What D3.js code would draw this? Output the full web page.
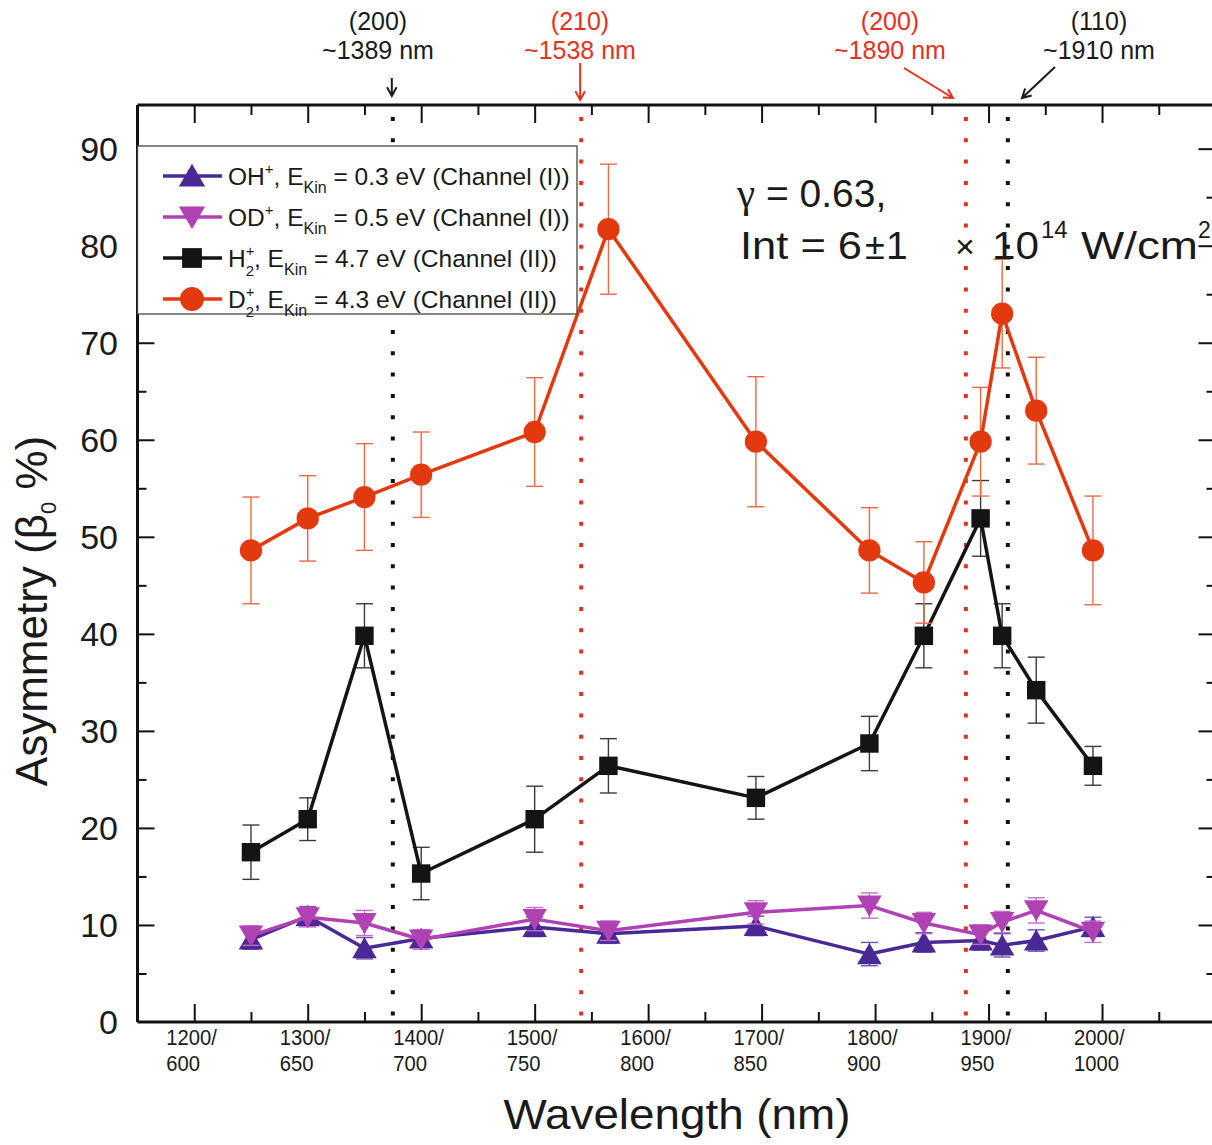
<!DOCTYPE html>
<html>
<head>
<meta charset="utf-8">
<script src="https://cdn.jsdelivr.net/npm/d3@7"></script>
<style>
  html, body { margin: 0; padding: 0; background: #ffffff; }
  svg { display: block; font-family: "Liberation Sans", Arial, sans-serif; }
</style>
</head>
<body>
<svg id="chart" width="1212" height="1145"></svg>
<script>
// ---------------- DATA ----------------
const wavelengths = [1250, 1300, 1350, 1400, 1500, 1565, 1695, 1795, 1843, 1893, 1912, 1942, 1992];

const ohValues = [8.5, 10.9, 7.6, 8.6, 9.8, 9.1, 9.9, 7.0, 8.2, 8.4, 7.9, 8.4, 9.8];
const ohErrors = [1.0, 1.0, 1.1, 0.9, 1.0, 1.0, 1.0, 1.2, 1.0, 1.0, 1.2, 1.1, 1.0];

const odValues = [8.9, 10.8, 10.2, 8.5, 10.6, 9.4, 11.3, 12.0, 10.2, 9.0, 10.3, 11.5, 9.3];
const odErrors = [1.0, 1.0, 1.3, 1.0, 1.2, 1.0, 1.2, 1.3, 1.1, 1.0, 1.1, 1.3, 1.1];

const h2Values = [17.5, 20.9, 39.8, 15.3, 20.9, 26.4, 23.1, 28.7, 39.8, 51.9, 39.8, 34.2, 26.4];
const h2Errors = [2.8, 2.2, 3.3, 2.7, 3.4, 2.8, 2.2, 2.8, 3.3, 3.9, 3.3, 3.4, 2.0];

const d2Values = [48.6, 51.9, 54.1, 56.4, 60.8, 81.7, 59.8, 48.6, 45.3, 59.8, 73.0, 63.0, 48.6];
const d2Errors = [5.5, 4.4, 5.5, 4.4, 5.6, 6.7, 6.7, 4.4, 4.2, 5.6, 5.6, 5.5, 5.6];

const xMajorTicks = [1200, 1300, 1400, 1500, 1600, 1700, 1800, 1900, 2000];
const xMinorTicks = [1250, 1350, 1450, 1550, 1650, 1750, 1850, 1950, 2050];
const xTickLine1 = ["1200/", "1300/", "1400/", "1500/", "1600/", "1700/", "1800/", "1900/", "2000/"];
const xTickLine2 = ["600", "650", "700", "750", "800", "850", "900", "950", "1000"];
const yMajorTicks = [0, 10, 20, 30, 40, 50, 60, 70, 80, 90];
const yMinorTicks = [5, 15, 25, 35, 45, 55, 65, 75, 85];

// resonance markers (positions)
const resonancePositions = [1375, 1541, 1880, 1917];
const resonanceOrders = ["(200)", "(210)", "(200)", "(110)"];
const resonanceLabels = ["~1389 nm", "~1538 nm", "~1890 nm", "~1910 nm"];
const resonanceIsRed = [false, true, true, false];

// ---------------- SETUP ----------------
const svg = d3.select("#chart");
const X0 = 137.5, X1 = 1215.5, YT = 105, YB = 1022;
const x = d3.scaleLinear().domain([1150, 2100]).range([X0, X1]);
const y = d3.scaleLinear().domain([0, 94.5]).range([YB, YT]);

const RED = "#e3321c";
const colors = { oh: "#4a2896", od: "#b042b4", h2: "#141414", d2: "#e2390f" };
const errColors = { oh: "#6e52b4", od: "#c46ccb", h2: "#3a3a3a", d2: "#eb6a45" };

// ---------------- AXES / FRAME ----------------
const axesG = svg.append("g");
function tickAxis(axisGen, transform, values, size) {
  const g = axesG.append("g").attr("transform", transform)
    .call(axisGen.tickValues(values).tickSize(size).tickFormat(""));
  g.select(".domain").remove();
  g.selectAll("line").attr("stroke", "#111").attr("stroke-width", 2);
}
tickAxis(d3.axisBottom(x), `translate(0,${YB})`, xMajorTicks, -18);
tickAxis(d3.axisBottom(x), `translate(0,${YB})`, xMinorTicks, -10);
tickAxis(d3.axisTop(x), `translate(0,${YT})`, xMajorTicks, -18);
tickAxis(d3.axisTop(x), `translate(0,${YT})`, xMinorTicks, -10);
tickAxis(d3.axisLeft(y), `translate(${X0},0)`, yMajorTicks.filter(v => v > 0), -17);
tickAxis(d3.axisLeft(y), `translate(${X0},0)`, yMinorTicks, -9);
tickAxis(d3.axisRight(y), `translate(${X1},0)`, yMajorTicks.filter(v => v > 0), -17);
tickAxis(d3.axisRight(y), `translate(${X1},0)`, yMinorTicks, -9);

// frame
axesG.append("line").attr("x1", X0).attr("x2", X1).attr("y1", YB).attr("y2", YB).attr("stroke", "#111").attr("stroke-width", 3);
axesG.append("line").attr("x1", X0).attr("x2", X1).attr("y1", YT).attr("y2", YT).attr("stroke", "#111").attr("stroke-width", 3);
axesG.append("line").attr("x1", X0).attr("x2", X0).attr("y1", YT).attr("y2", YB).attr("stroke", "#111").attr("stroke-width", 3);
axesG.append("line").attr("x1", X1).attr("x2", X1).attr("y1", YT).attr("y2", YB).attr("stroke", "#111").attr("stroke-width", 3);

// y tick labels
svg.append("g").selectAll("text").data(yMajorTicks).join("text")
  .attr("x", 118).attr("y", d => y(d) + 12)
  .attr("text-anchor", "end").attr("font-size", 34).attr("fill", "#1a1a1a")
  .text(d => d);

// x tick labels (two lines, narrow)
const xl = svg.append("g").selectAll("g").data(xMajorTicks).join("g")
  .attr("transform", d => `translate(${x(d) - 28},0) scale(0.92,1)`);
xl.append("text").attr("x", 0).attr("y", 1045).attr("font-size", 22).attr("fill", "#1a1a1a")
  .text((d, i) => xTickLine1[i]);
xl.append("text").attr("x", 0).attr("y", 1071).attr("font-size", 22).attr("fill", "#1a1a1a")
  .text((d, i) => xTickLine2[i]);

// axis titles
svg.append("text").attr("x", 677).attr("y", 1129).attr("text-anchor", "middle")
  .attr("font-size", 42).attr("fill", "#1a1a1a").attr("textLength", 347).attr("lengthAdjust", "spacingAndGlyphs")
  .text("Wavelength (nm)");
const yt = svg.append("text").attr("transform", "translate(47,611) rotate(-90)")
  .attr("text-anchor", "middle").attr("font-size", 44).attr("fill", "#1a1a1a");
yt.append("tspan").text("Asymmetry (β");
yt.append("tspan").attr("font-size", 22).attr("dy", 9).text("0");
yt.append("tspan").attr("dy", -9).text(" %)");

// ---------------- RESONANCE LINES ----------------
const resG = svg.append("g");
resonancePositions.forEach((w, i) => {
  resG.append("line").attr("x1", x(w)).attr("x2", x(w)).attr("y1", YT + 12).attr("y2", YB - 2)
    .attr("stroke", resonanceIsRed[i] ? RED : "#111").attr("stroke-width", 4)
    .attr("stroke-dasharray", "4,17.3");
});

// ---------------- DATA SERIES ----------------
const series = [
  { key: "oh", values: ohValues, errors: ohErrors, symbol: d3.symbolTriangle, size: 260, rot: 0 },
  { key: "od", values: odValues, errors: odErrors, symbol: d3.symbolTriangle, size: 260, rot: 180 },
  { key: "h2", values: h2Values, errors: h2Errors, symbol: d3.symbolSquare, size: 340, rot: 0 },
  { key: "d2", values: d2Values, errors: d2Errors, symbol: d3.symbolCircle, size: 390, rot: 0 }
];
const lineGen = d3.line().x(d => x(d.w)).y(d => y(d.v));

series.forEach(s => {
  const pts = wavelengths.map((w, i) => ({ w, v: s.values[i], e: s.errors[i] }));
  const g = svg.append("g");
  const eb = g.append("g").attr("stroke", errColors[s.key]).attr("stroke-width", 1.4);
  pts.forEach(p => {
    eb.append("line").attr("x1", x(p.w)).attr("x2", x(p.w)).attr("y1", y(p.v - p.e)).attr("y2", y(p.v + p.e));
    eb.append("line").attr("x1", x(p.w) - 8.5).attr("x2", x(p.w) + 8.5).attr("y1", y(p.v - p.e)).attr("y2", y(p.v - p.e));
    eb.append("line").attr("x1", x(p.w) - 8.5).attr("x2", x(p.w) + 8.5).attr("y1", y(p.v + p.e)).attr("y2", y(p.v + p.e));
  });
  g.append("path").attr("d", lineGen(pts)).attr("fill", "none")
    .attr("stroke", colors[s.key]).attr("stroke-width", 3.5).attr("stroke-linejoin", "round");
  const shift = s.key === "oh" ? 3 : (s.key === "od" ? -3 : 0);
  g.selectAll("path.m").data(pts).join("path").attr("class", "m")
    .attr("d", d3.symbol(s.symbol, s.size))
    .attr("transform", d => `translate(${x(d.w)},${y(d.v) + shift}) rotate(${s.rot})`)
    .attr("fill", colors[s.key]);
});

// ---------------- LEGEND ----------------
const leg = svg.append("g");
leg.append("rect").attr("x", X0).attr("y", 146).attr("width", 577 - X0).attr("height", 168)
  .attr("fill", "#ffffff").attr("stroke", "#444").attr("stroke-width", 1.3);
const legendRows = [
  { key: "oh", cy: 176, base: "OH", stacked: null, rest: " = 0.3 eV (Channel (I))" },
  { key: "od", cy: 217, base: "OD", stacked: null, rest: " = 0.5 eV (Channel (I))" },
  { key: "h2", cy: 258, base: "H", stacked: "2", rest: " = 4.7 eV (Channel (II))" },
  { key: "d2", cy: 299, base: "D", stacked: "2", rest: " = 4.3 eV (Channel (II))" }
];
legendRows.forEach((r) => {
  const s = series.find(q => q.key === r.key);
  leg.append("line").attr("x1", 163).attr("x2", 222).attr("y1", r.cy).attr("y2", r.cy)
    .attr("stroke", colors[r.key]).attr("stroke-width", 3.5);
  const shift = r.key === "oh" ? 3 : (r.key === "od" ? -3 : 0);
  leg.append("path").attr("d", d3.symbol(s.symbol, s.size * 1.15)())
    .attr("transform", `translate(192,${r.cy + shift}) rotate(${s.rot})`).attr("fill", colors[r.key]);
  const t = leg.append("text").attr("x", 228).attr("y", r.cy + 9).attr("font-size", 24.5).attr("fill", "#1a1a1a");
  t.append("tspan").text(r.base);
  t.append("tspan").attr("font-size", 15).attr("dy", -11).text("+");
  if (r.stacked) {
    t.append("tspan").attr("font-size", 15).attr("dx", -8.8).attr("dy", 20).text(r.stacked);
    t.append("tspan").attr("dy", -9).text(", E");
  } else {
    t.append("tspan").attr("dy", 11).text(", E");
  }
  t.append("tspan").attr("font-size", 16).attr("dy", 8).text("Kin");
  t.append("tspan").attr("dy", -8).text(r.rest);
});

// ---------------- CONDITIONS ANNOTATION ----------------
const ann = svg.append("g").attr("fill", "#1a1a1a");
const g1 = ann.append("text").attr("x", 737).attr("y", 207).attr("font-size", 39);
g1.append("tspan").attr("font-family", "'Liberation Serif', serif").attr("font-size", 41).text("γ");
g1.append("tspan").text(" = 0.63,");
ann.append("text").attr("x", 740).attr("y", 259).attr("font-size", 39)
  .attr("textLength", 122).attr("lengthAdjust", "spacingAndGlyphs").text("Int = 6");
ann.append("text").attr("x", 865).attr("y", 259).attr("font-size", 36).text("±");
ann.append("text").attr("x", 886).attr("y", 259).attr("font-size", 39).text("1");
ann.append("text").attr("x", 955).attr("y", 258).attr("font-size", 34).text("×");
ann.append("text").attr("x", 992).attr("y", 259).attr("font-size", 39)
  .attr("textLength", 47).attr("lengthAdjust", "spacingAndGlyphs").text("10");
ann.append("text").attr("x", 1041).attr("y", 238).attr("font-size", 24).text("14");
ann.append("text").attr("x", 1081).attr("y", 259).attr("font-size", 39)
  .attr("textLength", 117).attr("lengthAdjust", "spacingAndGlyphs").text("W/cm");
ann.append("text").attr("x", 1198).attr("y", 238).attr("font-size", 23).text("2");

// ---------------- RESONANCE LABELS & ARROWS ----------------
const labelCenters = [378, 580, 890, 1099];
const arrowStarts = [[x(resonancePositions[0]) - 1, 78], [x(resonancePositions[1]) - 1, 63], [904, 68], [1055, 67]];
const arrowEnds = [[x(resonancePositions[0]) - 1, 96], [x(resonancePositions[1]) - 1, 100], [953, 98], [1022, 98]];
const topLabels = svg.append("g");
resonancePositions.forEach((w, i) => {
  const c = resonanceIsRed[i] ? RED : "#1a1a1a";
  topLabels.append("text").attr("x", labelCenters[i]).attr("y", 30).attr("text-anchor", "middle")
    .attr("font-size", 25).attr("fill", c).text(resonanceOrders[i]);
  topLabels.append("text").attr("x", labelCenters[i]).attr("y", 59).attr("text-anchor", "middle")
    .attr("font-size", 25).attr("fill", c).text(resonanceLabels[i]);
  const [sx, sy] = arrowStarts[i], [ex, ey] = arrowEnds[i];
  const ang = Math.atan2(ey - sy, ex - sx);
  const hl = 10, ha = 0.5;
  const p1 = [ex - hl * Math.cos(ang - ha), ey - hl * Math.sin(ang - ha)];
  const p2 = [ex - hl * Math.cos(ang + ha), ey - hl * Math.sin(ang + ha)];
  topLabels.append("path")
    .attr("d", `M${sx},${sy}L${ex},${ey}M${p1[0]},${p1[1]}L${ex},${ey}L${p2[0]},${p2[1]}`)
    .attr("fill", "none").attr("stroke", c).attr("stroke-width", 2);
});
</script>
</body>
</html>
